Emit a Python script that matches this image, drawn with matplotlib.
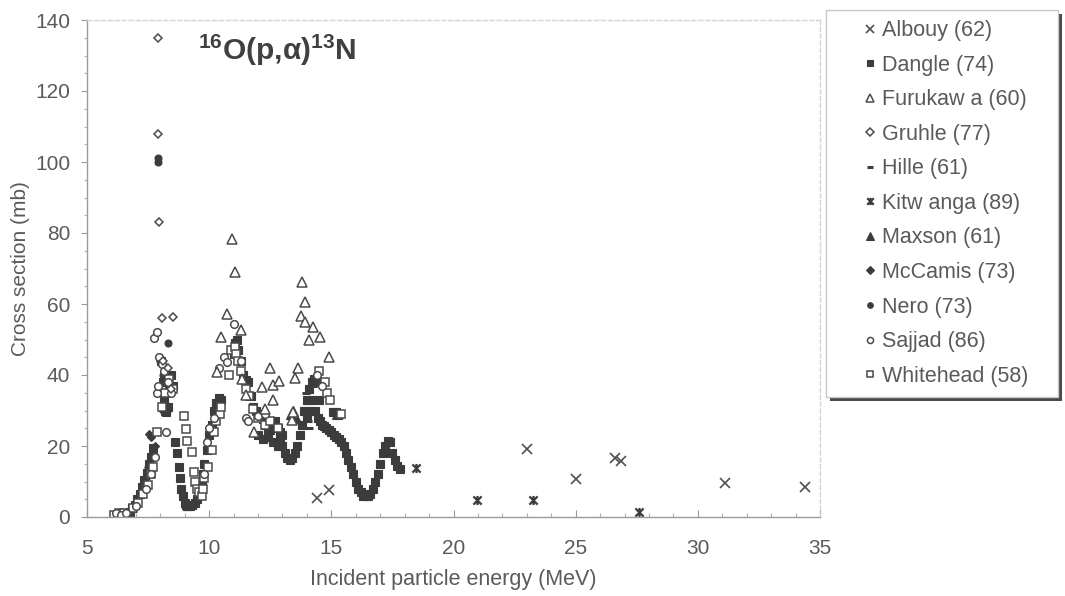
import matplotlib
matplotlib.use("Agg")
import matplotlib.pyplot as plt
from matplotlib.path import Path
from matplotlib.patches import Rectangle
from matplotlib.lines import Line2D

plt.rcParams['font.family'] = ['Liberation Sans', 'DejaVu Sans']
plt.rcParams['mathtext.fontset'] = 'custom'
plt.rcParams['mathtext.rm'] = 'Liberation Sans'
plt.rcParams['mathtext.bf'] = 'Liberation Sans:bold'
plt.rcParams['mathtext.it'] = 'Liberation Sans:italic'
plt.rcParams['mathtext.default'] = 'bf'

# ---- measured cross sections, 16O(p,alpha)13N  (energy MeV, sigma mb) ----
albouy_E = [14.4, 14.9, 23.0, 25.0, 26.6, 26.85, 31.1, 34.4]
albouy_s = [5.4, 7.6, 19.2, 10.7, 16.6, 15.9, 9.6, 8.5]

dangle_E = [6.55, 6.65, 6.75, 6.85, 6.95, 7.05, 7.15, 7.25, 7.35, 7.45, 7.55, 7.62, 7.7,
            8.02, 8.1, 8.15, 8.2, 8.25, 8.3, 8.35, 8.42, 8.5,
            8.6, 8.68, 8.75, 8.8, 8.85, 8.92, 9.0, 9.05, 9.1, 9.15, 9.2, 9.3, 9.4, 9.5,
            9.6, 9.7, 9.75, 9.8, 9.9, 10.0, 10.1, 10.2, 10.3, 10.4, 10.5,
            11.0, 11.05, 11.12, 11.2, 11.3, 11.4, 11.5, 11.6, 11.7, 11.8, 11.9, 12.0,
            12.1, 12.2, 12.3, 12.4, 12.5, 12.6, 12.7, 12.8, 12.9, 13.0, 13.1, 13.2,
            13.3, 13.4, 13.5, 13.6, 13.7, 13.8, 13.9, 14.0, 14.1, 14.2, 14.3, 14.4,
            14.5, 14.55, 14.6, 14.7, 14.8, 14.9, 15.0, 15.1, 15.2, 15.3, 15.4, 15.5,
            15.6, 15.7, 15.8, 15.9, 16.0, 16.1, 16.2, 16.3, 16.4, 16.5, 16.6, 16.7,
            16.8, 16.9, 17.0, 17.1, 17.2, 17.3, 17.4, 17.5, 17.6, 17.7, 17.8,
            12.0, 12.2, 12.4, 12.6, 12.8, 13.0, 12.3, 12.9, 14.0, 14.1, 14.2, 14.35,
            14.45, 15.05, 15.2, 15.3]
dangle_s = [0.5, 0.8, 1.5, 2.5, 3.5, 5.0, 6.5, 8.5, 10.5, 12.5, 15.0, 17.0, 19.5,
            44.0, 38.0, 33.0, 30.0, 29.5, 31.0, 37.0, 40.0, 37.0,
            21.0, 18.0, 14.0, 11.0, 8.0, 6.0, 4.0, 3.5, 3.2, 3.0, 3.2, 3.5, 4.0, 5.0,
            7.0, 9.0, 12.0, 15.0, 19.0, 23.0, 26.0, 30.0, 32.0, 33.5, 33.0,
            46.0, 49.0, 50.0, 47.0, 44.0, 40.0, 38.5, 38.0, 34.0, 31.0, 30.0, 29.0,
            28.5, 27.5, 26.0, 25.0, 24.5, 25.5, 27.0, 25.0, 22.0, 20.0, 18.0, 16.5,
            16.0, 16.5, 18.0, 20.0, 23.0, 26.0, 30.0, 33.0, 36.0, 38.0, 39.0, 38.0,
            33.0, 27.0, 26.0, 25.5, 25.0, 24.5, 24.0, 23.0, 22.5, 22.0, 21.0, 20.0,
            18.0, 16.0, 14.0, 12.0, 10.0, 8.0, 7.0, 6.0, 5.8, 6.0, 6.5, 8.0,
            10.0, 12.0, 15.0, 18.0, 20.0, 21.5, 21.0, 18.0, 16.0, 14.5, 13.5,
            23.0, 22.0, 22.5, 21.0, 20.0, 23.0, 28.0, 24.0, 28.0, 30.0, 33.0, 30.0,
            28.0, 29.5, 29.5, 29.0]

furukawa_E = [10.93, 11.07, 10.73, 11.3, 10.5, 10.34, 12.47, 12.18, 12.6, 12.87, 11.34,
              11.5, 12.6, 11.82, 13.8, 13.94, 13.77, 13.94, 14.25, 14.55, 14.07, 14.89,
              13.62, 13.52, 13.4, 13.45, 12.3]
furukawa_s = [78.2, 68.9, 57.1, 52.7, 50.6, 40.9, 41.9, 36.7, 37.2, 38.4, 39.0,
              34.4, 33.0, 24.0, 66.1, 60.6, 56.7, 55.0, 53.6, 50.6, 49.9, 45.2,
              41.9, 39.1, 27.3, 29.7, 30.5]

gruhle_E = [7.92, 7.92, 7.95, 8.06, 8.51, 8.1, 8.3, 8.45]
gruhle_s = [135.0, 108.0, 83.0, 56.0, 56.4, 44.0, 42.0, 36.0]

hille_E = [13.95, 14.0, 14.02, 14.05, 14.1, 14.25]
hille_s = [35.0, 32.0, 30.0, 27.0, 25.0, 37.0]

kitwanga_E = [18.47, 20.97, 23.27, 27.6]
kitwanga_s = [13.9, 4.8, 4.8, 1.5]

maxson_E = [13.35, 13.45, 13.55, 15.25]
maxson_s = [29.0, 30.0, 28.0, 29.0]

mccamis_E = [7.55, 7.6, 7.4, 7.3, 7.7, 8.1, 8.3, 7.8]
mccamis_s = [23.5, 22.5, 11.0, 9.0, 18.0, 30.0, 36.0, 20.0]

nero_E = [7.9, 7.92, 8.3, 8.0, 8.1, 8.4, 8.28, 7.5, 7.2]
nero_s = [101.0, 100.0, 49.0, 44.0, 40.0, 37.0, 30.0, 14.0, 7.0]

sajjad_E = [6.2, 6.4, 6.6, 7.0, 7.4, 7.6, 7.8, 7.85, 7.9, 7.75, 7.85, 7.95, 8.05,
            8.15, 8.3, 8.45, 8.25, 9.8, 9.9, 10.0, 10.2, 10.4, 10.6, 10.73, 11.0,
            11.3, 11.5, 11.6, 12.0, 12.3, 14.4, 14.6]
sajjad_s = [1.0, 0.5, 1.0, 3.0, 8.0, 12.0, 17.0, 35.0, 37.0, 50.5, 52.0, 45.0, 43.0,
            41.0, 38.0, 35.0, 24.0, 12.0, 21.0, 25.0, 28.0, 42.0, 45.0, 43.7, 54.4,
            44.0, 28.0, 27.0, 28.5, 29.0, 40.0, 37.0]

whitehead_E = [6.1, 6.3, 6.5, 6.9, 7.1, 7.3, 7.5, 7.6, 7.7, 7.87, 8.05, 8.2, 8.35, 8.5,
               8.95, 9.05, 9.11, 9.29, 9.36, 9.4, 9.5, 9.6, 9.7, 9.75, 9.8, 9.95, 10.1,
               10.2, 10.3, 10.45, 10.5, 10.8, 10.9, 11.05, 11.1, 11.2, 11.3, 11.5,
               11.65, 11.8, 12.0, 12.3, 12.5, 12.8, 14.48, 14.76, 14.82, 14.93, 15.4]
whitehead_s = [0.5, 1.0, 1.2, 2.5, 4.0, 6.5, 9.0, 12.0, 14.0, 23.9, 31.0, 35.0, 39.0,
               36.0, 28.5, 24.8, 21.5, 18.4, 12.7, 10.0, 8.0, 7.0, 6.0, 8.0, 11.0,
               14.0, 19.0, 24.0, 27.0, 29.0, 31.0, 40.0, 47.0, 48.0, 46.0, 44.0, 41.0,
               36.0, 34.0, 30.5, 28.0, 26.0, 27.0, 25.0, 41.0, 38.1, 34.8, 33.0, 29.0]

x_ticks = [5, 10, 15, 20, 25, 30, 35]
y_ticks = [0, 20, 40, 60, 80, 100, 120, 140]

# asterisk-like marker (x crossed by a vertical bar)
star_x = Path([(-1, -1), (1, 1), (-1, 1), (1, -1), (0, -1.1), (0, 1.1)],
              [Path.MOVETO, Path.LINETO, Path.MOVETO, Path.LINETO, Path.MOVETO, Path.LINETO])

ink = '#3c3c3c'
open_kw = dict(markerfacecolor='white', markeredgecolor='#4a4a4a', markeredgewidth=1.1)
fill_kw = dict(markerfacecolor=ink, markeredgecolor=ink, markeredgewidth=0.8)

series = [
    ('Albouy (62)', albouy_E, albouy_s, dict(marker='x', markersize=6.5, markeredgecolor='#505050', markeredgewidth=1.2)),
    ('Dangle (74)', dangle_E, dangle_s, dict(marker='s', markersize=5.5, **fill_kw)),
    ('Furukaw a (60)', furukawa_E, furukawa_s, dict(marker='^', markersize=6.5, **open_kw)),
    ('Gruhle (77)', gruhle_E, gruhle_s, dict(marker='D', markersize=4.5, **open_kw)),
    ('Hille (61)', hille_E, hille_s, dict(marker='_', markersize=6, markeredgecolor=ink, markeredgewidth=2.2)),
    ('Kitw anga (89)', kitwanga_E, kitwanga_s, dict(marker=star_x, markersize=6.5, markeredgecolor=ink, markeredgewidth=1.6)),
    ('Maxson (61)', maxson_E, maxson_s, dict(marker='^', markersize=6.5, **fill_kw)),
    ('McCamis (73)', mccamis_E, mccamis_s, dict(marker='D', markersize=4.5, **fill_kw)),
    ('Nero (73)', nero_E, nero_s, dict(marker='o', markersize=5, **fill_kw)),
    ('Sajjad (86)', sajjad_E, sajjad_s, dict(marker='o', markersize=5.5, **open_kw)),
    ('Whitehead (58)', whitehead_E, whitehead_s, dict(marker='s', markersize=5.5, **open_kw)),
]

fig = plt.figure(figsize=(10.65, 5.96), dpi=100)
ax = fig.add_axes([87 / 1065, 1 - 517 / 596, (820 - 87) / 1065, (517 - 20) / 596])

# open-marker series go last so they sit on top of the dense filled curve
draw_order = [1, 7, 8, 6, 4, 5, 0, 10, 9, 2, 3]
for i in draw_order:
    label, xs, ys, kw = series[i]
    ax.plot(xs, ys, linestyle='none', label=label, **kw)

ax.set_xlim(5, 35)
ax.set_ylim(0, 140)
ax.set_xticks(x_ticks)
ax.set_yticks(y_ticks)
ax.set_xticks(range(5, 36), minor=True)
ax.set_yticks(range(0, 141, 5), minor=True)

txt = '#5a5a5a'
ax.tick_params(axis='x', which='major', direction='in', length=5, width=0.8, color='#9a9a9a',
               labelsize=15, labelcolor=txt, pad=16)
ax.tick_params(axis='x', which='minor', direction='in', length=3, width=0.8, color='#b0b0b0')
ax.tick_params(axis='y', which='major', direction='out', length=4, width=0.8, color='#9a9a9a',
               labelsize=15, labelcolor=txt, pad=8)
ax.tick_params(axis='y', which='minor', direction='out', length=2.5, width=0.8, color='#b0b0b0')

for side in ('left', 'bottom'):
    ax.spines[side].set_color('#9a9a9a')
    ax.spines[side].set_linewidth(1.0)
for side in ('top', 'right'):
    ax.spines[side].set_color('#d4d4d4')
    ax.spines[side].set_linewidth(1.0)
    ax.spines[side].set_linestyle((0, (3, 2)))

ax.set_xlabel('Incident particle energy (MeV)', fontsize=15.5, color=txt, labelpad=8)
ax.set_ylabel('Cross section (mb)', fontsize=15, color=txt, labelpad=4)

ax.text(12.8, 131.5, r'$^{16}$O(p,α)$^{13}$N', fontsize=21.5, fontweight='bold',
        color='#404040', ha='center', va='center')

# legend panel with drop shadow
lx0, ly0, lx1, ly1 = 826 / 1065, 1 - 397 / 596, 1058 / 1065, 1 - 10 / 596
shadow = Rectangle((lx0 + 4 / 1065, ly0 - 4 / 596), lx1 - lx0, ly1 - ly0,
                   transform=fig.transFigure, facecolor='#4a4a4a', edgecolor='none', zorder=1)
panel = Rectangle((lx0, ly0), lx1 - lx0, ly1 - ly0, transform=fig.transFigure,
                  facecolor='white', edgecolor='#c8c8c8', linewidth=1.0, zorder=2)
fig.patches.extend([shadow, panel])

leg_handles = []
for label, xs, ys, kw in series:
    kk = dict(kw)
    kk['markersize'] = kk['markersize'] * 0.8
    leg_handles.append(Line2D([], [], linestyle='none', **kk))
leg = fig.legend(leg_handles, [s[0] for s in series], loc='upper left',
                 bbox_to_anchor=(848 / 1065, 1 - 5 / 596), frameon=False,
                 fontsize=15.5, labelcolor=txt, handlelength=0.6, handletextpad=0.3,
                 labelspacing=0.63, borderpad=0.2)
leg.set_zorder(3)

fig.savefig('out.png', dpi=100, facecolor='white')
